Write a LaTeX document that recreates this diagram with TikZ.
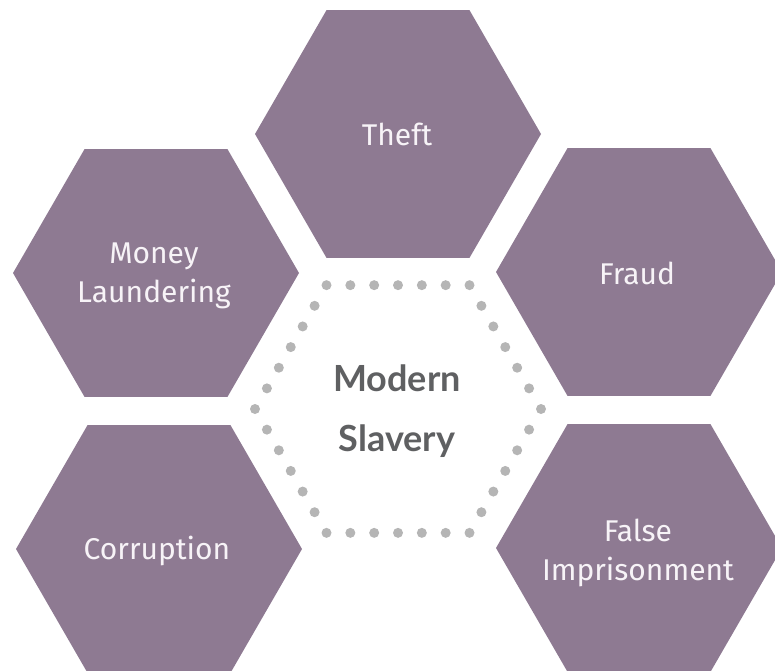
\documentclass[tikz,border=0pt]{standalone}
\usepackage{fontspec}
\usetikzlibrary{calc}
\newfontfamily\hexfont{Fira Sans}
\newfontfamily\centerfont{Lato Bold}
\definecolor{hexpurple}{HTML}{8E7A92}
\definecolor{dotgray}{HTML}{B5B5B5}
\definecolor{titlegray}{HTML}{5F6062}
\definecolor{hextext}{HTML}{F7F3F7}
\tikzset{
  hexlabel/.style={text=hextext, align=center, font=\hexfont\fontsize{30}{39}\selectfont, inner sep=0pt},
  centerlabel/.style={text=titlegray, align=center, font=\centerfont\fontsize{36}{60}\selectfont, inner sep=0pt},
  hexfill/.style={fill=hexpurple},
  hexdot/.style={circle, fill=dotgray, draw=none, inner sep=0pt, minimum size=10pt}
}
\newcommand{\hexpath}[2]{(#1+143,#2) -- (#1+71.5,#2+123.84) -- (#1-71.5,#2+123.84) -- (#1-143,#2) -- (#1-71.5,#2-123.84) -- (#1+71.5,#2-123.84) -- cycle}
\begin{document}
\begin{tikzpicture}[x=1pt,y=-1pt]
\useasboundingbox (0,0) rectangle (775,670);
\clip (0,0) rectangle (775,670);
% purple hexagons
\fill[hexfill] \hexpath{398}{134};
\fill[hexfill] \hexpath{156}{273};
\fill[hexfill] \hexpath{639}{272};
\fill[hexfill] \hexpath{159}{549};
\fill[hexfill] \hexpath{639}{548};
% dotted centre hexagon
\coordinate (c) at (398,409);
\foreach \a in {0,60,...,300}{
  \foreach \k in {0,...,5}{
    \node[hexdot] (d-\a-\k) at ($(c)+{1-\k/6}*(\a:143)+{\k/6}*(\a+60:143)$) {};
  }
}
% labels
\node[hexlabel] (theft) at (397,134) {Theft};
\node[hexlabel] (money) at (154,276) {Money\\Laundering};
\node[hexlabel] (fraud) at (637,273) {Fraud};
\node[hexlabel] (corr) at (157,551) {Corruption};
\node[hexlabel] (false) at (638,553) {False\\Imprisonment};
\node[centerlabel] (ms) at (397,411) {Modern\\Slavery};
\end{tikzpicture}
\end{document}
